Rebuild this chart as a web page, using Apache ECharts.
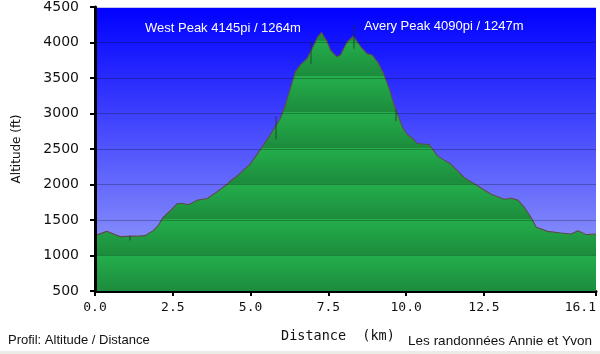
<!DOCTYPE html>
<html>
<head>
<meta charset="utf-8">
<script src="https://cdn.jsdelivr.net/npm/echarts@6/dist/echarts.min.js"></script>
<style>
    html,body{margin:0;padding:0;background:#fff;}
    #chart{width:600px;height:354px;}
</style>
</head>
<body>
<div id="chart"></div>
<script>
    /*distance (km) / altitude (ft)*/
    const distKm = [0.00,0.38,0.64,0.81,1.45,1.61,1.87,2.03,2.19,2.42,2.64,2.84,3.00,3.29,3.61,3.93,4.25,4.35,4.57,4.67,4.99,5.32,5.64,5.96,6.12,6.28,6.44,6.60,6.82,6.98,7.16,7.28,7.46,7.57,7.76,7.89,8.09,8.30,8.54,8.75,8.91,9.10,9.28,9.45,9.61,9.77,9.89,10.04,10.20,10.36,10.74,11.01,11.44,11.87,12.30,12.73,13.15,13.37,13.59,13.80,14.01,14.18,14.55,14.98,15.30,15.52,15.79,16.10];
    const altFt  = [1280,1340,1294,1266,1276,1280,1350,1420,1537,1630,1732,1732,1714,1780,1802,1900,2003,2050,2120,2160,2290,2494,2704,2937,3124,3357,3590,3684,3777,3917,4080,4140,4010,3893,3800,3823,4000,4090,3940,3840,3823,3715,3555,3357,3124,2937,2800,2704,2650,2578,2563,2400,2284,2097,1980,1863,1793,1807,1780,1677,1537,1397,1340,1317,1303,1350,1294,1303];
    /*waypoint markers: km, top ft, bottom ft*/
    const markKm  = [1.13,5.82,6.93,8.30,9.65];
    const markTop = [1280,2960,4010,4248,3058];
    const markBot = [1210,2638,3702,3912,2890];
    const xTicks = [0,2.5,5,7.5,10,12.5,16.1];
    const peakLabels = ['West Peak 4145pi / 1264m','Avery Peak 4090pi / 1247m'];

    const yMin = 500, yMax = 4500, yStep = 500;
    const gridTop = 5, gridBottom = 63;
    const plotBottom = 354 - gridBottom;

    const points = distKm.map((d,i) => [d, altFt[i]]);

    /*striped green fill, one band per 500 ft*/
    const nBands = (yMax - yMin) / yStep;
    const stops = [];
    for (let i = 0; i < nBands; i++) {
        stops.push({offset: i / nBands, color: '#24ae4c'});
        stops.push({offset: (i + 1) / nBands - 0.001, color: '#1c8c3c'});
    }

    const marks = markKm.map((k,i) => [{coord:[k, markTop[i]]},{coord:[k, markBot[i]]}]);

    const chart = echarts.init(document.getElementById('chart'));
    chart.setOption({
        animation:false,
        grid:{
            left:95, right:4, top:gridTop, bottom:gridBottom,
            show:true, borderWidth:0,
            backgroundColor:{
                type:'linear', x:0, y:0, x2:0, y2:1,
                colorStops:[{offset:0,color:'#0000ff'},{offset:1,color:'#a2aafa'}]
            }
        },
        xAxis:{
            type:'value', min:0, max:16.1,
            axisLine:{lineStyle:{color:'#000', width:3}},
            axisTick:{customValues:xTicks, length:5, lineStyle:{color:'#000', width:2}},
            axisLabel:{customValues:xTicks, formatter:v => v.toFixed(1), margin:10, alignMaxLabel:'right',
                fontFamily:'DejaVu Sans Mono', fontSize:13, color:'#111'},
            splitLine:{show:false}
        },
        yAxis:{
            type:'value', min:yMin, max:yMax, interval:yStep, z:3,
            name:'Altitude (ft)', nameLocation:'middle', nameGap:72, nameRotate:90,
            nameTextStyle:{fontFamily:'DejaVu Sans', fontSize:12, color:'#111'},
            axisLine:{show:true, lineStyle:{color:'#000', width:3}},
            axisTick:{show:true, length:5, lineStyle:{color:'#000', width:2}},
            axisLabel:{margin:16, formatter:v => String(v), fontFamily:'DejaVu Sans', fontSize:14, color:'#111'},
            splitLine:{lineStyle:{color:['rgba(0,0,0,0.25)','rgba(0,0,0,0.25)','rgba(0,0,0,0.25)','rgba(0,0,0,0.25)','rgba(0,0,0,0.25)','rgba(0,0,0,0.25)','rgba(0,0,0,0.25)','rgba(0,0,0,0.25)','#c4c4f2'], width:1}}
        },
        series:[
            {
                type:'line',
                data:points,
                symbol:'none',
                z:2,
                lineStyle:{color:'#5e4e4a', width:1.1},
                areaStyle:{
                    opacity:1,
                    color:{type:'linear', x:0, y:gridTop, x2:0, y2:plotBottom, global:true, colorStops:stops}
                },
                markLine:{
                    silent:true, symbol:['none','none'], label:{show:false},
                    lineStyle:{color:'rgba(30,50,40,0.5)', type:'solid', width:1.5},
                    data:marks
                }
            }
        ],
        graphic:[
            {type:'text', left:145, top:22, z:10, style:{text:peakLabels[0], fill:'#fff', font:'13px "Liberation Sans", Arial, sans-serif'}},
            {type:'text', left:364, top:20, z:10, style:{text:peakLabels[1], fill:'#fff', font:'13px "Liberation Sans", Arial, sans-serif'}},
            {type:'text', left:281, top:329, style:{text:'Distance  (km)', fill:'#111', font:'13.5px "DejaVu Sans Mono", monospace'}},
            {type:'text', left:8, top:334, style:{text:'Profil: Altitude / Distance', fill:'#111', font:'13px "Liberation Sans", Arial, sans-serif'}},
            {type:'text', right:8, top:334, style:{text:'Les randonnées Annie et Yvon', fill:'#111', font:'13.5px "Liberation Sans", Arial, sans-serif'}},
            {type:'rect', left:0, top:351, shape:{width:600, height:3}, style:{fill:'#ecece6'}}
        ]
    });
</script>
</body>
</html>
